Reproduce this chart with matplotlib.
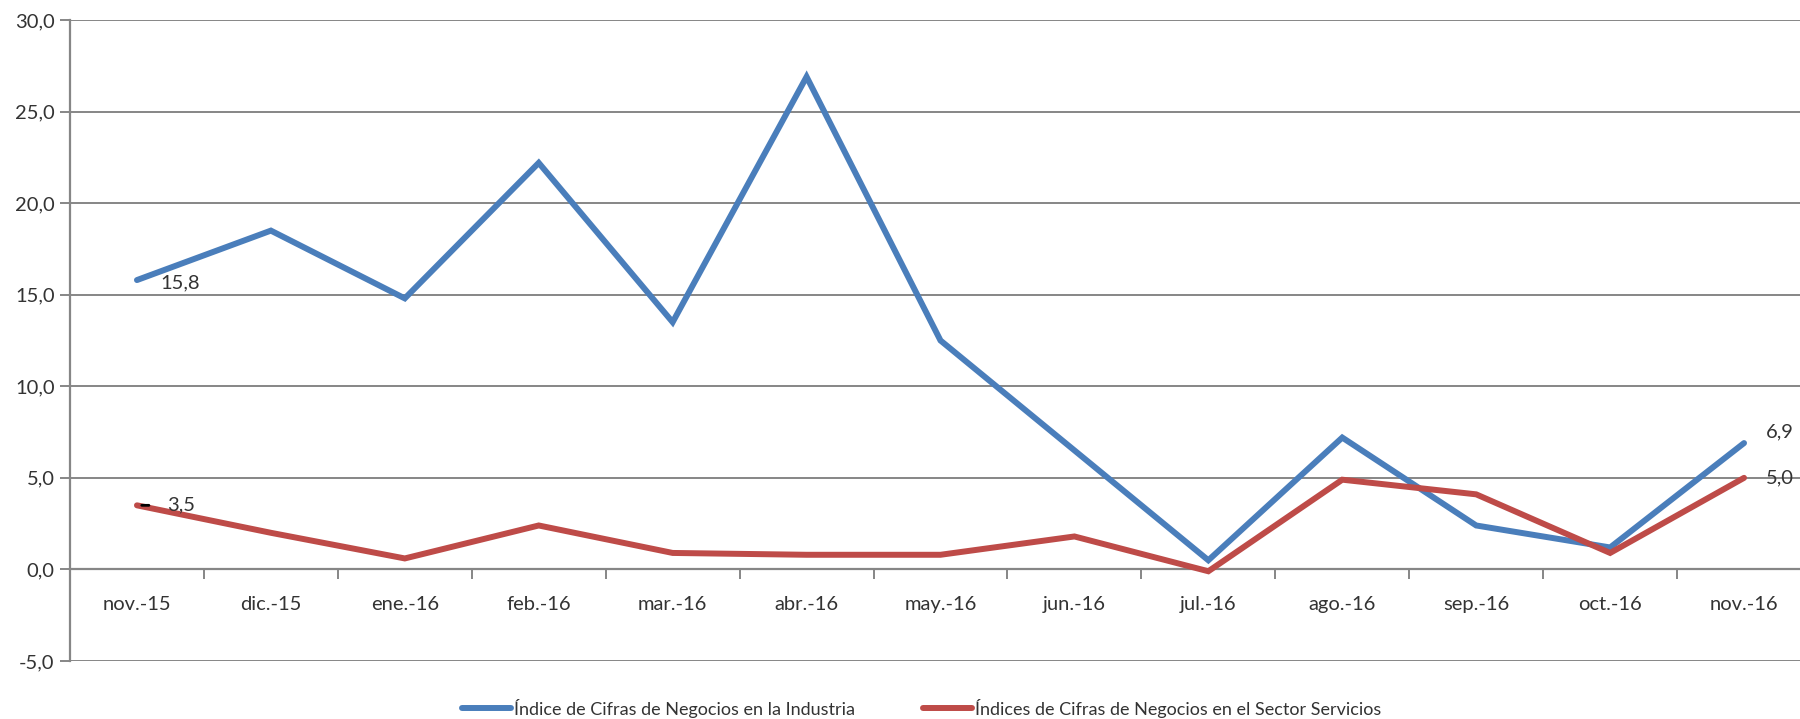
import numpy as np
import matplotlib.pyplot as plt

months = ["nov.-15", "dic.-15", "ene.-16", "feb.-16", "mar.-16", "abr.-16", "may.-16",
          "jun.-16", "jul.-16", "ago.-16", "sep.-16", "oct.-16", "nov.-16"]
industria = [15.8, 18.5, 14.8, 22.2, 13.5, 26.9, 12.5, 6.5, 0.5, 7.2, 2.4, 1.2, 6.9]
servicios = [3.5, 2.0, 0.6, 2.4, 0.9, 0.8, 0.8, 1.8, -0.1, 4.9, 4.1, 0.9, 5.0]
y_ticks = [-5, 0, 5, 10, 15, 20, 25, 30]

plt.rcParams['font.family'] = ['Lato', 'DejaVu Sans']

blue = "#4A7EBB"
red = "#BE4B48"
grey = "#868686"
txt = "#333333"
fs = 14.5

fig = plt.figure(figsize=(18, 7.19), dpi=100)
ax = fig.add_axes([70 / 1800, 1 - 661 / 719, 1741 / 1800, 641 / 719])

x = np.arange(len(months))
ax.plot(x, industria, color=blue, lw=4.3, solid_capstyle="round", solid_joinstyle="miter",
        label="Índice de Cifras de Negocios en la Industria", zorder=3)
ax.plot(x, servicios, color=red, lw=4.3, solid_capstyle="round", solid_joinstyle="miter",
        label="Índices de Cifras de Negocios en el Sector Servicios", zorder=3)

ax.set_xlim(-0.5, len(months) - 0.5)
ax.set_ylim(-5, 30)

# grid and axes
for v in y_ticks:
    if v != 0:
        ax.axhline(v, color=grey, lw=1.4, zorder=1)
for s in ["top", "right"]:
    ax.spines[s].set_visible(False)
ax.spines["bottom"].set_position(("data", 0))
ax.spines["bottom"].set_color(grey)
ax.spines["bottom"].set_linewidth(1.6)
ax.spines["left"].set_color(grey)
ax.spines["left"].set_linewidth(1.6)

ax.set_yticks(y_ticks)
ax.set_yticklabels([f"{v:.1f}".replace(".", ",") for v in y_ticks])
ax.tick_params(axis="y", direction="out", length=7, width=1.4, color=grey,
               labelsize=fs, labelcolor=txt, pad=4)

ax.set_xticks(x)
ax.set_xticklabels(months)
ax.set_xticks(np.arange(len(months) + 1) - 0.5, minor=True)
ax.tick_params(axis="x", which="major", length=0, labelsize=fs, labelcolor=txt, pad=19)
ax.tick_params(axis="x", which="minor", direction="out", length=7, width=1.4, color=grey)

# data labels
def fmt(v):
    return f"{v:.1f}".replace(".", ",")

ax.annotate(fmt(industria[0]), (x[0], industria[0]), xytext=(17, -2), textcoords="offset points",
            ha="left", va="center", fontsize=fs, color=txt)
ax.annotate(fmt(servicios[0]), (x[0], servicios[0]), xytext=(22, 0), textcoords="offset points",
            ha="left", va="center", fontsize=fs, color=txt)
ax.annotate("", (x[0] + 0.015, servicios[0]), xytext=(x[0] + 0.11, servicios[0]),
            arrowprops=dict(arrowstyle="-", color="black", lw=2))
ax.annotate(fmt(industria[-1]), (x[-1], industria[-1]), xytext=(16, 8), textcoords="offset points",
            ha="left", va="center", fontsize=fs, color=txt)
ax.annotate(fmt(servicios[-1]), (x[-1], servicios[-1]), xytext=(16, 0), textcoords="offset points",
            ha="left", va="center", fontsize=fs, color=txt)

fig.legend(loc="center", bbox_to_anchor=(0.512, 1 - 708 / 719), ncol=2, frameon=False,
           fontsize=13, handlelength=2.7, handletextpad=0.15, columnspacing=3.8,
           labelcolor=txt)

fig.savefig("out.png", dpi=100)
